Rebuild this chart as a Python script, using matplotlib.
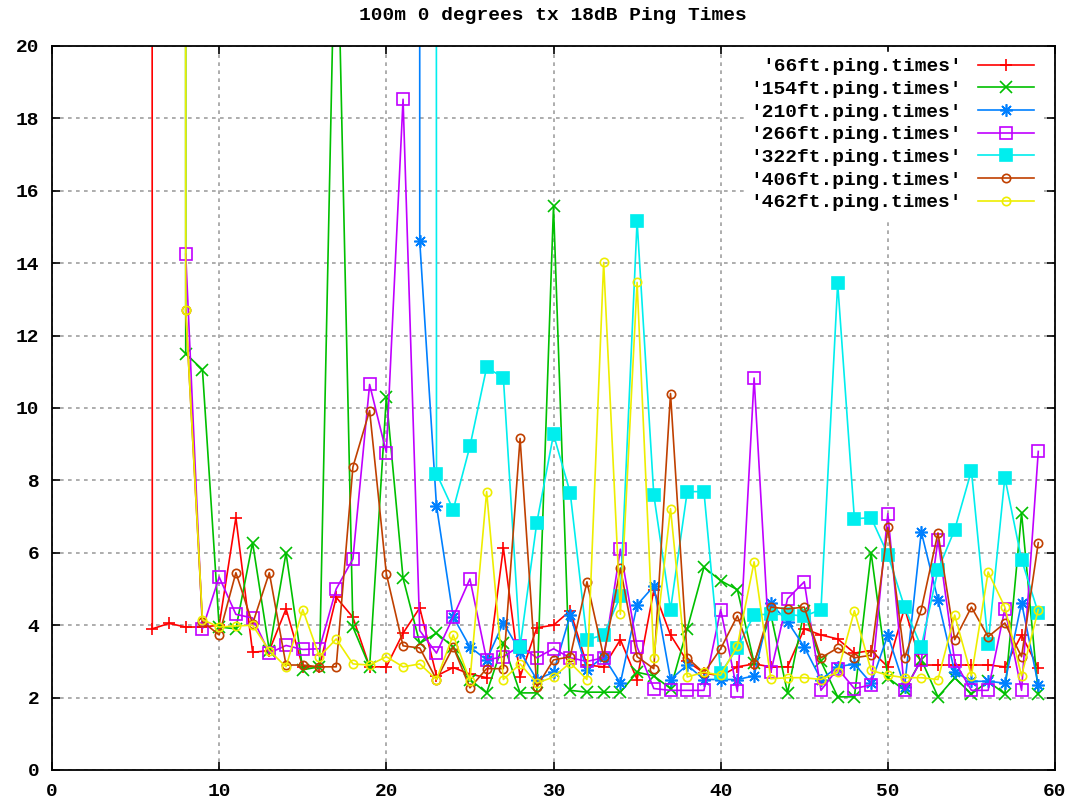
import matplotlib
matplotlib.use("Agg")
import matplotlib.pyplot as plt
import numpy as np

plt.rcParams['font.family'] = ['Liberation Mono', 'DejaVu Sans Mono']
plt.rcParams['font.weight'] = 'bold'

title = "100m 0 degrees tx 18dB Ping Times"

# ping times per sequence number; the first value of some series is off the chart
red_start = 5
red = [2000, 3.9, 4.05, 3.95, 3.95,
       4.0, 6.97, 3.25, 3.3, 4.45, 2.85, 2.85, 4.77, 4.22, 2.85,
       2.85, 3.78, 4.48, 2.6, 2.83, 2.65, 2.55, 6.14, 2.57, 3.93,
       4.0, 4.4, 2.9, 2.85, 3.6, 2.5, 4.97, 3.73, 3.0, 2.68,
       2.6, 2.85, 2.93, 2.85, 2.85, 3.9, 3.73, 3.62, 3.23, 3.3,
       2.85, 4.48, 2.9, 2.9, 2.9, 2.9, 2.9, 2.85, 3.73, 2.82]

green_start = 7
green = [2000, 11.5, 11.06,
         3.95, 3.9, 6.28, 3.3, 6.0, 2.77, 2.85, 25, 3.95, 2.85,
         10.3, 5.3, 3.5, 3.78, 3.4, 2.5, 2.13, 3.5, 2.13, 2.13,
         15.57, 2.2, 2.15, 2.15, 2.15, 2.7, 2.6, 2.25, 3.9, 5.6,
         5.23, 4.98, 2.96, 4.3, 2.13, 4.4, 3.0, 2.02, 2.02, 6.0,
         2.55, 2.2, 3.05, 2.02, 2.55, 2.1, 2.45, 2.1, 7.1, 2.1]

blue_start = 21
blue = [2000, 14.6, 7.3, 4.23, 3.4, 3.04, 4.07, 3.27, 2.5,
        2.7, 4.28, 2.77, 3.13, 2.4, 4.56, 5.08, 2.5, 2.9, 2.5,
        2.5, 2.5, 2.6, 4.6, 4.1, 3.4, 2.5, 2.85, 2.93, 2.4,
        3.73, 2.3, 6.58, 4.7, 2.71, 2.45, 2.45, 2.4, 4.62, 2.35]

purple_start = 8
purple = [14.25, 3.9,
          5.33, 4.3, 4.2, 3.23, 3.44, 3.33, 3.35, 5.0, 5.83, 10.65,
          8.77, 18.53, 3.85, 3.23, 4.23, 5.28, 3.04, 3.13, 3.43, 3.1,
          3.35, 3.1, 3.0, 3.1, 6.1, 3.4, 2.25, 2.2, 2.2, 2.2,
          4.43, 2.17, 10.83, 2.7, 4.73, 5.2, 2.2, 2.8, 2.25, 2.35,
          7.08, 2.2, 3.03, 6.36, 3.0, 2.2, 2.2, 4.45, 2.2, 8.8]

cyan_start = 22
cyan = [2000, 8.19, 7.19, 8.94, 11.12, 10.84, 3.4, 6.83,
        9.27, 7.66, 3.6, 3.73, 4.8, 15.16, 7.6, 4.43, 7.69, 7.69,
        2.68, 3.37, 4.29, 4.3, 4.3, 4.25, 4.43, 13.44, 6.94, 6.97,
        5.95, 4.5, 3.4, 5.53, 6.64, 8.27, 3.48, 8.08, 5.81, 4.34]

brown_start = 8
brown = [12.7, 4.1,
         3.73, 5.45, 4.04, 5.45, 2.9, 2.9, 2.85, 2.85, 8.37, 9.93,
         5.42, 3.43, 3.37, 2.5, 3.4, 2.27, 2.8, 2.8, 9.16, 2.3,
         3.04, 3.13, 5.2, 3.13, 5.58, 3.13, 2.8, 10.4, 3.1, 2.68,
         3.35, 4.26, 2.93, 4.5, 4.45, 4.5, 3.1, 3.37, 3.1, 3.17,
         6.7, 3.1, 4.43, 6.55, 3.6, 4.5, 3.68, 4.06, 3.13, 6.28]

yellow_start = 7
yellow = [2000, 12.7, 4.15,
          3.95, 3.98, 4.0, 3.3, 2.85, 4.43, 3.13, 3.62, 2.93, 2.9,
          3.13, 2.85, 2.93, 2.5, 3.73, 2.47, 7.69, 2.5, 2.93, 2.4,
          2.57, 2.96, 2.5, 14.02, 4.3, 13.47, 3.1, 7.22, 2.57, 2.7,
          2.62, 3.43, 5.75, 2.52, 2.55, 2.55, 2.5, 2.7, 4.4, 2.75,
          2.62, 2.55, 2.55, 2.5, 4.28, 2.6, 5.47, 4.5, 2.6, 4.43]

labels = ["'66ft.ping.times'", "'154ft.ping.times'", "'210ft.ping.times'",
          "'266ft.ping.times'", "'322ft.ping.times'", "'406ft.ping.times'",
          "'462ft.ping.times'"]

series = [(red_start, red), (green_start, green), (blue_start, blue),
          (purple_start, purple), (cyan_start, cyan), (brown_start, brown),
          (yellow_start, yellow)]
colors = ['#ff0000', '#00c000', '#0080ff', '#c000ff', '#00eeee', '#c04000', '#eeee00']
markers = ['+', 'x', (8, 2, 0), 's', 's', 'o', 'o']
msizes = [9, 8, 9, 8, 8, 6, 6]
filled = [True, True, True, False, True, False, False]

fig = plt.figure(figsize=(10.79, 8.07), dpi=100)
ax = fig.add_axes([52 / 1079, 1 - 770 / 807, (1055 - 52) / 1079, (770 - 46) / 807])

for (start, vals), lab, c, m, ms, f in zip(series, labels, colors, markers, msizes, filled):
    x = np.arange(start, start + len(vals))
    ax.plot(x, vals, color=c, lw=1.2, marker=m, markersize=ms, markeredgewidth=1.2,
            markerfacecolor=c if f else 'none', markeredgecolor=c, label=lab)

ax.set_xlim(0, 60)
ax.set_ylim(0, 20)
ax.set_xticks(range(0, 61, 10))
ax.set_yticks(range(0, 21, 2))
ax.grid(True, color='#a0a0a0', linestyle=(0, (2.2, 2.6)), lw=1.2)
ax.tick_params(direction='in', top=True, right=True, length=6, width=1.2,
               labelsize=14, pad=9)
for s in ax.spines.values():
    s.set_linewidth(1.3)

leg = ax.legend(loc='upper right', bbox_to_anchor=(1040 / 1079, 1 - 52 / 807),
                bbox_transform=fig.transFigure, markerfirst=False, fontsize=14,
                handlelength=2.9, handletextpad=0.8, labelspacing=0.26,
                borderpad=0.3, borderaxespad=0, fancybox=False, framealpha=1,
                edgecolor='white', facecolor='white')
leg.set_zorder(10)

fig.text(553 / 1079, 1 - 16 / 807, title, ha='center', va='center', fontsize=14)

fig.savefig("out.png", dpi=100)
